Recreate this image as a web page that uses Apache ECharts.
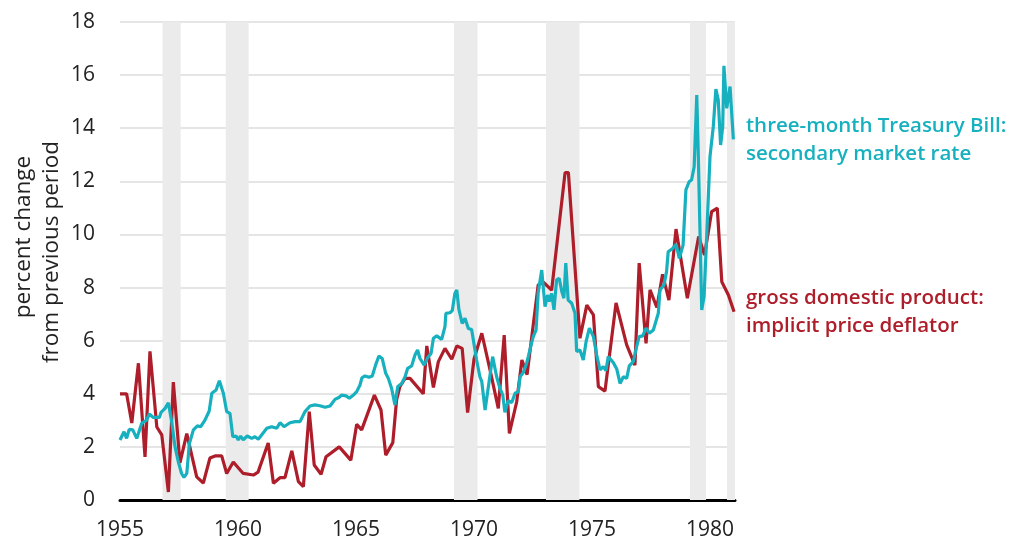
<!DOCTYPE html>
<html>
<head>
<meta charset="utf-8">
<title>T-bill rate vs GDP deflator</title>
<script src="https://cdn.jsdelivr.net/npm/echarts@6/dist/echarts.min.js"></script>
<style>
  html, body { margin: 0; padding: 0; background: #fff; }
  #main { width: 1011px; height: 542px; }
</style>
</head>
<body>
<div id="main"></div>
<script>
// gross domestic product: implicit price deflator (quarterly)
var gdpYears = [1955.00, 1955.28, 1955.50, 1955.78, 1956.06, 1956.27, 1956.56, 1956.77, 1957.05, 1957.26,
  1957.54, 1957.83, 1958.25, 1958.53, 1958.81, 1959.03, 1959.31, 1959.52, 1959.80, 1960.22,
  1960.65, 1960.85, 1961.28, 1961.50, 1961.78, 1961.99, 1962.28, 1962.56, 1962.77, 1963.02,
  1963.23, 1963.52, 1963.73, 1964.29, 1964.78, 1965.03, 1965.24, 1965.78, 1966.06, 1966.26,
  1966.56, 1966.72, 1966.86, 1967.08, 1967.29, 1967.85, 1968.00, 1968.28, 1968.49, 1968.77,
  1969.06, 1969.27, 1969.50, 1969.73, 1970.00, 1970.33, 1970.68, 1971.03, 1971.28, 1971.50,
  1971.81, 1972.03, 1972.25, 1972.72, 1972.94, 1973.29, 1973.86, 1974.00, 1974.49, 1974.78,
  1975.06, 1975.27, 1975.55, 1976.02, 1976.47, 1976.82, 1977.00, 1977.29, 1977.46, 1977.75,
  1977.99, 1978.26, 1978.56, 1979.04, 1979.52, 1979.77, 1980.07, 1980.31, 1980.50, 1980.78,
  1981.02];
var gdpValues = [4.0, 4.0, 2.9, 5.15, 1.62, 5.6, 2.75, 2.45, 0.3, 4.44,
  1.4, 2.5, 0.87, 0.64, 1.58, 1.66, 1.66, 1.0, 1.43, 1.0,
  0.94, 1.05, 2.15, 0.63, 0.84, 0.84, 1.85, 0.69, 0.5, 3.33,
  1.32, 0.97, 1.63, 2.0, 1.5, 2.85, 2.64, 3.95, 3.39, 1.69,
  2.16, 3.77, 4.27, 4.58, 4.58, 4.0, 5.8, 4.24, 5.21, 5.71,
  5.3, 5.8, 5.71, 3.29, 5.3, 6.28, 4.9, 3.45, 6.21, 2.51,
  3.7, 5.27, 4.72, 8.1, 8.2, 7.9, 12.33, 12.33, 6.09, 7.34,
  6.97, 4.27, 4.1, 7.42, 5.84, 5.08, 8.92, 5.9, 7.91, 7.25,
  8.5, 7.53, 10.2, 7.6, 9.92, 9.23, 10.86, 10.99, 8.22, 7.72,
  7.09];

// three-month Treasury Bill: secondary market rate
var tbillYears = [1955.00, 1955.17, 1955.28, 1955.39, 1955.54, 1955.71, 1955.92, 1956.13, 1956.24, 1956.41,
  1956.67, 1956.74, 1956.91, 1957.05, 1957.19, 1957.33, 1957.47, 1957.61, 1957.71, 1957.83,
  1957.94, 1958.11, 1958.28, 1958.42, 1958.60, 1958.78, 1958.89, 1959.07, 1959.21, 1959.38,
  1959.52, 1959.66, 1959.78, 1959.92, 1960.01, 1960.11, 1960.22, 1960.39, 1960.58, 1960.72,
  1960.86, 1961.00, 1961.22, 1961.43, 1961.64, 1961.78, 1961.95, 1962.20, 1962.42, 1962.63,
  1962.84, 1963.05, 1963.26, 1963.47, 1963.69, 1963.90, 1964.11, 1964.29, 1964.39, 1964.58,
  1964.72, 1964.89, 1965.03, 1965.17, 1965.25, 1965.38, 1965.55, 1965.69, 1965.83, 1965.97,
  1966.11, 1966.26, 1966.37, 1966.51, 1966.65, 1966.77, 1966.94, 1967.08, 1967.19, 1967.36,
  1967.50, 1967.61, 1967.71, 1967.89, 1968.04, 1968.18, 1968.28, 1968.42, 1968.63, 1968.77,
  1968.81, 1968.98, 1969.08, 1969.19, 1969.27, 1969.36, 1969.50, 1969.62, 1969.76, 1969.90,
  1970.11, 1970.25, 1970.33, 1970.47, 1970.61, 1970.79, 1970.96, 1971.10, 1971.22, 1971.31,
  1971.39, 1971.45, 1971.60, 1971.74, 1971.88, 1971.95, 1972.09, 1972.23, 1972.30, 1972.40,
  1972.51, 1972.63, 1972.72, 1972.87, 1973.01, 1973.12, 1973.19, 1973.29, 1973.39, 1973.50,
  1973.61, 1973.72, 1973.81, 1973.89, 1973.99, 1974.14, 1974.28, 1974.35, 1974.49, 1974.63,
  1974.75, 1974.89, 1975.06, 1975.20, 1975.34, 1975.48, 1975.59, 1975.69, 1975.90, 1976.05,
  1976.19, 1976.33, 1976.47, 1976.58, 1976.75, 1976.89, 1977.00, 1977.15, 1977.29, 1977.43,
  1977.60, 1977.81, 1977.88, 1978.05, 1978.16, 1978.23, 1978.43, 1978.56, 1978.62, 1978.70,
  1978.86, 1978.98, 1979.12, 1979.22, 1979.33, 1979.44, 1979.50, 1979.65, 1979.75, 1979.86,
  1980.00, 1980.14, 1980.25, 1980.35, 1980.45, 1980.54, 1980.59, 1980.71, 1980.85, 1980.99];
var tbillValues = [2.26, 2.57, 2.32, 2.66, 2.64, 2.32, 2.89, 3.01, 3.24, 3.11,
  3.11, 3.3, 3.45, 3.66, 2.95, 2.01, 1.44, 1.0, 0.85, 1.0,
  2.13, 2.64, 2.79, 2.76, 3.01, 3.35, 4.02, 4.14, 4.49, 4.02,
  3.33, 3.26, 2.38, 2.41, 2.26, 2.41, 2.26, 2.41, 2.32, 2.38,
  2.29, 2.45, 2.7, 2.76, 2.7, 2.91, 2.76, 2.91, 2.95, 2.95,
  3.33, 3.54, 3.58, 3.55, 3.49, 3.54, 3.79, 3.87, 3.95, 3.92,
  3.83, 3.95, 4.08, 4.33, 4.6, 4.67, 4.62, 4.67, 5.08, 5.42,
  5.33, 4.77, 4.58, 4.2, 3.58, 4.27, 4.39, 4.64, 4.96, 5.05,
  5.46, 5.65, 5.33, 5.08, 5.37, 5.52, 6.09, 6.18, 6.05, 6.53,
  7.03, 7.05, 7.13, 7.78, 7.91, 7.18, 6.65, 6.84, 6.46, 6.42,
  5.27, 4.64, 4.46, 3.39, 4.27, 5.4, 4.64, 4.2, 3.95, 3.3,
  3.26, 3.74, 3.67, 4.02, 4.08, 4.64, 4.8, 5.15, 5.4, 5.77,
  6.15, 6.4, 7.8, 8.66, 7.28, 7.72, 7.47, 7.78, 7.16, 8.29,
  8.35, 7.85, 7.6, 8.92, 7.53, 7.41, 7.03, 5.59, 5.65, 5.27,
  5.96, 6.47, 6.15, 5.46, 4.9, 5.02, 4.87, 5.4, 5.18, 4.93,
  4.39, 4.64, 4.58, 5.05, 5.21, 5.77, 6.15, 6.18, 6.47, 6.28,
  6.4, 7.03, 7.91, 8.1, 8.6, 9.35, 9.48, 9.63, 9.42, 9.1,
  9.6, 11.68, 11.99, 12.05, 12.55, 15.25, 13.18, 7.16, 7.66, 9.92,
  12.93, 14.06, 15.47, 15.07, 13.37, 14.06, 16.35, 14.75, 15.57, 13.58];

// recession bands (start, end)
var recessionStart = [1956.80, 1959.48, 1969.15, 1973.05, 1979.15, 1980.72];
var recessionEnd = [1957.57, 1960.45, 1970.15, 1974.47, 1979.83, 1981.06];

var yTicks = [0, 2, 4, 6, 8, 10, 12, 14, 16, 18];

var tbColor = '#17b0bf';
var gdpColor = '#ae1d2a';
var fontName = '"Open Sans", "Noto Sans", sans-serif';

var chart = echarts.init(document.getElementById('main'));

var bands = recessionStart.map(function (s, i) {
  return [{ xAxis: s }, { xAxis: recessionEnd[i] }];
});

chart.setOption({
  animation: false,
  backgroundColor: '#fff',
  grid: { left: 120, right: 276, top: 22, bottom: 42 },
  xAxis: {
    type: 'value',
    min: 1955,
    max: 1981.06,
    interval: 5,
    axisLine: { show: true, lineStyle: { color: '#000', width: 3 } },
    axisTick: { show: false },
    splitLine: { show: false },
    axisLabel: {
      margin: 20,
      fontSize: 21,
      color: '#222',
      fontFamily: fontName,
      formatter: function (v) { return v % 5 === 0 ? String(v) : ''; }
    }
  },
  yAxis: {
    type: 'value',
    min: yTicks[0],
    max: yTicks[yTicks.length - 1],
    interval: 2,
    axisLine: { show: false },
    axisTick: { show: false },
    splitLine: { lineStyle: { color: '#dcdcdc', width: 1.5 } },
    axisLabel: { margin: 25, fontSize: 21, color: '#222', fontFamily: fontName }
  },
  graphic: [
    { type: 'text', x: 24, y: 237, rotation: Math.PI / 2,
      style: { text: 'percent change', fill: '#222', font: '22.5px ' + fontName, align: 'center', verticalAlign: 'middle' } },
    { type: 'text', x: 52, y: 252, rotation: Math.PI / 2,
      style: { text: 'from previous period', fill: '#222', font: '22.5px ' + fontName, align: 'center', verticalAlign: 'middle' } },
    { type: 'text', x: 746, y: 126,
      style: { text: 'three-month Treasury Bill:', fill: tbColor, font: '600 20.5px ' + fontName, verticalAlign: 'middle' } },
    { type: 'text', x: 746, y: 154,
      style: { text: 'secondary market rate', fill: tbColor, font: '600 20.5px ' + fontName, verticalAlign: 'middle' } },
    { type: 'text', x: 746, y: 298,
      style: { text: 'gross domestic product:', fill: gdpColor, font: '600 20.5px ' + fontName, verticalAlign: 'middle' } },
    { type: 'text', x: 746, y: 326,
      style: { text: 'implicit price deflator', fill: gdpColor, font: '600 20.5px ' + fontName, verticalAlign: 'middle' } }
  ],
  series: [
    {
      name: 'recessions',
      type: 'line',
      data: [],
      silent: true,
      markArea: {
        silent: true,
        itemStyle: { color: '#ebebeb' },
        data: bands
      }
    },
    {
      name: 'gross domestic product: implicit price deflator',
      type: 'line',
      showSymbol: false,
      symbol: 'none',
      lineStyle: { color: gdpColor, width: 3.2 },
      itemStyle: { color: gdpColor },
      data: gdpYears.map(function (y, i) { return [y, gdpValues[i]]; })
    },
    {
      name: 'three-month Treasury Bill: secondary market rate',
      type: 'line',
      showSymbol: false,
      symbol: 'none',
      lineStyle: { color: tbColor, width: 3.2 },
      itemStyle: { color: tbColor },
      data: tbillYears.map(function (y, i) { return [y, tbillValues[i]]; })
    }
  ]
});
</script>
</body>
</html>
